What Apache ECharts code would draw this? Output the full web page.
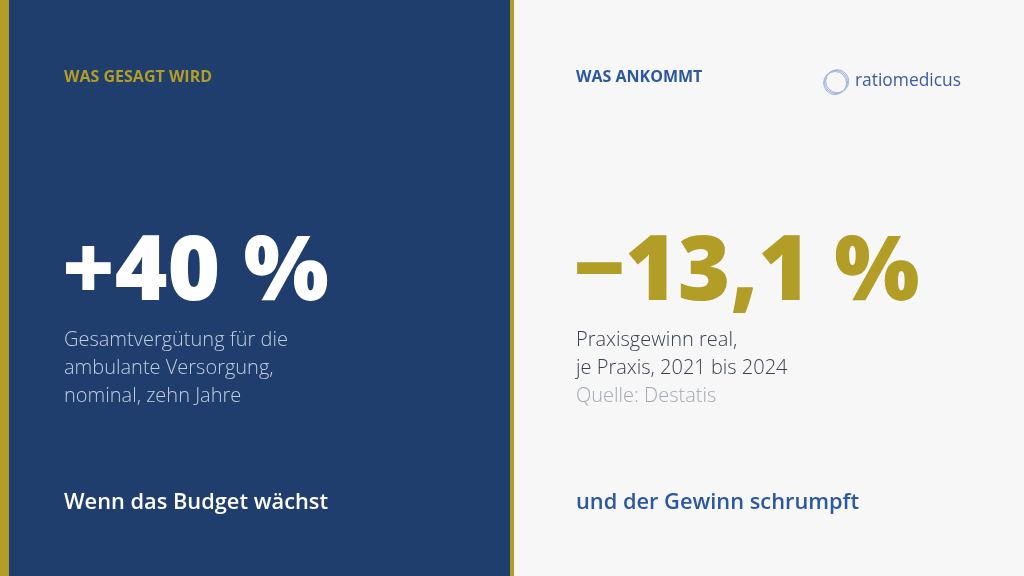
<!DOCTYPE html>
<html>
  <head>
    <meta charset="utf-8">
    <title>Budget und Gewinn</title>
    <script src="https://cdn.jsdelivr.net/npm/echarts@6/dist/echarts.min.js"></script>
    <style>
    html,body{
      height:100%;
      width:100%;
      margin:0px;
    }
    #chartDiv{
      width:1024px;
      height:576px;
    }
    </style>
  </head>
  <body>
    <div id="chartDiv"></div>
    <script type="text/javascript">
      // Werte der beiden Kacheln (links / rechts)
      var kickers = ['WAS GESAGT WIRD', 'WAS ANKOMMT'];
      var values = [40, -13.1];
      var decimals = [0, 1];
      var captions = [
        ['Gesamtvergütung für die', 'ambulante Versorgung,', 'nominal, zehn Jahre'],
        ['Praxisgewinn real,', 'je Praxis, 2021 bis 2024']
      ];
      var sources = ['', 'Quelle: Destatis'];
      var taglines = ['Wenn das Budget wächst', 'und der Gewinn schrumpft'];
      var brand = 'ratiomedicus';

      var BLUE = '#1f3d6d';
      var GOLD = '#b29d27';
      var PAPER = '#f7f7f7';
      var FONT = '"Open Sans", "Noto Sans", sans-serif';

      function fmt(v, d){
        var s = Math.abs(v).toFixed(d).replace('.', ',');
        return (v < 0 ? '\u2212' : '+') + s + ' %';
      }

      var panels = [
        {x: 64, kicker: GOLD, big: '#ffffff', cap: '#c3cde0', tag: '#ffffff'},
        {x: 576, kicker: '#2c58a0', big: GOLD, cap: '#3a4150', tag: '#2c58a0'}
      ];

      var graphic = [
        {type: 'rect', shape: {x: 0, y: 0, width: 1024, height: 576}, style: {fill: PAPER}, silent: true},
        {type: 'rect', shape: {x: 0, y: 0, width: 512, height: 576}, style: {fill: BLUE}, silent: true},
        {type: 'rect', shape: {x: 0, y: 0, width: 9, height: 576}, style: {fill: GOLD}, silent: true},
        {type: 'rect', shape: {x: 510, y: 0, width: 4, height: 576}, style: {fill: GOLD}, silent: true}
      ];

      panels.forEach(function(p, i){
        graphic.push({type: 'text', x: p.x, y: 77, style: {
          text: kickers[i], fill: p.kicker, font: 'bold 16px ' + FONT, textVerticalAlign: 'middle'}});
        graphic.push({type: 'text', x: p.x - 2, y: 274, style: {
          text: fmt(values[i], decimals[i]), fill: p.big, font: '800 90px ' + FONT, textVerticalAlign: 'middle'}});
        captions[i].forEach(function(line, j){
          graphic.push({type: 'text', x: p.x, y: 340 + j * 28, style: {
            text: line, fill: p.cap, font: '300 20px ' + FONT, textVerticalAlign: 'middle'}});
        });
        if (sources[i]) {
          graphic.push({type: 'text', x: p.x, y: 340 + captions[i].length * 28, style: {
            text: sources[i], fill: '#a3a9b3', font: '300 20px ' + FONT, textVerticalAlign: 'middle'}});
        }
        graphic.push({type: 'text', x: p.x, y: 503, style: {
          text: taglines[i], fill: p.tag, font: '600 21.8px ' + FONT, textVerticalAlign: 'middle'}});
      });

      // Logo
      [[0, 0], [1.2, -0.8], [-0.9, 1]].forEach(function(o){
        graphic.push({type: 'circle', shape: {cx: 836 + o[0], cy: 82 + o[1], r: 11.5}, style: {
          fill: 'none', stroke: '#9fb2da', lineWidth: 1}, silent: true});
      });
      graphic.push({type: 'text', x: 855, y: 81, style: {
        text: brand, fill: '#3b5ba6', font: '17.4px ' + FONT, textVerticalAlign: 'middle'}});

      var chart = echarts.init(document.getElementById('chartDiv'));
      chart.setOption({animation: false, graphic: graphic});
    </script>
  </body>
</html>
